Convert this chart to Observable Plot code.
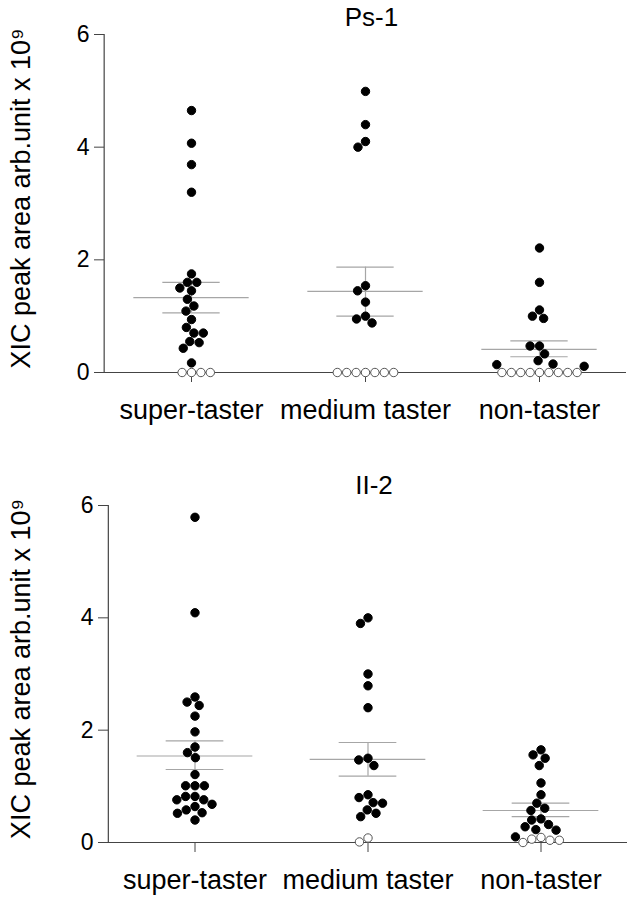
<!DOCTYPE html>
<html>
<head>
<meta charset="utf-8">
<script src="https://cdn.jsdelivr.net/npm/d3@7"></script>
<script src="https://cdn.jsdelivr.net/npm/@observablehq/plot@0.6"></script>
<style>
  html, body { margin: 0; padding: 0; background: #fff; }
  #chart svg { display: block; }
</style>
</head>
<body>
<div id="chart"></div>
<script>
const categories = ["super-taster", "medium taster", "non-taster"];
const yTicks = [0, 2, 4, 6];
const yLabel = "XIC peak area arb.unit x 10⁹";
const titles = ["Ps-1", "II-2"];

// Ps-1 panel: filled = detected, open = below detection
const ps1SuperFilled = [4.65, 4.07, 3.69, 3.20, 1.75, 1.60, 1.60, 1.50, 1.45, 1.30, 1.18, 1.09, 0.94, 0.80, 0.70, 0.70, 0.55, 0.53, 0.43, 0.17];
const ps1SuperOpen = [0, 0, 0, 0];
const ps1MediumFilled = [4.99, 4.40, 4.10, 4.00, 1.54, 1.45, 1.25, 1.00, 0.95, 0.88];
const ps1MediumOpen = [0, 0, 0, 0, 0, 0, 0];
const ps1NonFilled = [2.21, 1.60, 1.11, 1.00, 0.96, 0.47, 0.47, 0.33, 0.21, 0.15, 0.14, 0.11];
const ps1NonOpen = [0, 0, 0, 0, 0, 0, 0, 0, 0];
const ps1Mean = [1.33, 1.44, 0.41];
const ps1Lower = [1.06, 1.00, 0.28];
const ps1Upper = [1.60, 1.87, 0.56];

// II-2 panel
const ii2SuperFilled = [5.79, 4.09, 2.59, 2.50, 2.44, 2.25, 1.97, 1.70, 1.60, 1.51, 1.21, 1.01, 1.01, 1.01, 0.82, 0.82, 0.76, 0.76, 0.68, 0.64, 0.58, 0.53, 0.52, 0.40];
const ii2SuperOpen = [];
const ii2MediumFilled = [4.00, 3.90, 3.00, 2.79, 2.40, 1.50, 1.47, 1.37, 0.85, 0.80, 0.71, 0.70, 0.58, 0.52, 0.46];
const ii2MediumOpen = [0.08, 0.01];
const ii2NonFilled = [1.65, 1.56, 1.50, 1.37, 1.06, 0.85, 0.70, 0.61, 0.57, 0.42, 0.40, 0.32, 0.28, 0.23, 0.22, 0.10];
const ii2NonOpen = [0.09, 0.06, 0.04, 0.04, 0.00];
const ii2Mean = [1.54, 1.48, 0.57];
const ii2Lower = [1.30, 1.18, 0.46];
const ii2Upper = [1.81, 1.78, 0.70];

function buildRows(filledByCat, openByCat) {
  const rows = [];
  categories.forEach((c, i) => {
    openByCat[i].forEach(v => rows.push({cat: c, v, open: true}));
    filledByCat[i].forEach(v => rows.push({cat: c, v, open: false}));
  });
  return rows;
}
function buildStats(mean, lower, upper) {
  return categories.map((c, i) => ({cat: c, mean: mean[i], lo: lower[i], hi: upper[i]}));
}

const FONT = "'Liberation Sans', Arial, Helvetica, sans-serif";
const AXIS = "#444";
const ERR = "#a6a6a6";

function panel({title, rows, stats, height, marginTop, marginBottom, marginLeft, titleDy}) {
  const marginRight = 6;
  const bw = (633 - marginLeft - marginRight) / categories.length;
  return Plot.plot({
    width: 633,
    height,
    marginTop, marginBottom, marginLeft, marginRight,
    style: {fontFamily: FONT, background: "white", color: "black", overflow: "visible"},
    fx: {domain: categories, padding: 0, label: null},
    y: {domain: [0, 6], label: null},
    color: {type: "identity"},
    marks: [
      // error bars (mean ± SEM)
      Plot.ruleX(stats, {x: null, fx: "cat", y1: "lo", y2: "hi", stroke: ERR, strokeWidth: 1.2}),
      Plot.tickY(stats, {fx: "cat", y: "mean", stroke: ERR, strokeWidth: 1.2, insetLeft: bw / 2 - 58, insetRight: bw / 2 - 58}),
      Plot.tickY(stats, {fx: "cat", y: "lo", stroke: ERR, strokeWidth: 1.2, insetLeft: bw / 2 - 29, insetRight: bw / 2 - 29}),
      Plot.tickY(stats, {fx: "cat", y: "hi", stroke: ERR, strokeWidth: 1.2, insetLeft: bw / 2 - 29, insetRight: bw / 2 - 29}),
      // axes
      Plot.ruleY([0], {stroke: AXIS, strokeWidth: 1.2}),
      Plot.ruleX([categories[0]], {x: null, fx: d => d, y1: 0, y2: 6, dx: -bw / 2, stroke: AXIS, strokeWidth: 1.2}),
      Plot.axisY({ticks: yTicks, tickFormat: d => String(d), tickSize: 10, tickPadding: 5, fontSize: 23, stroke: AXIS, fill: "black", label: null}),
      Plot.axisFx({anchor: "bottom", tickSize: 10, tickPadding: 17, fontSize: 27, stroke: AXIS, fill: "black", label: null}),
      // points
      Plot.dot(rows, Plot.dodgeX("middle", {
        fx: "cat", y: "v", r: 4.2, padding: 2.6,
        fill: d => d.open ? "white" : "black",
        stroke: d => d.open ? "#555" : "black",
        strokeWidth: 1
      })),
      // y label
      Plot.text([yLabel], {fx: () => categories[0], frameAnchor: "left", textAnchor: "middle", rotate: -90, lineAnchor: "top", dx: -(marginLeft - 9), dy: -5, fontSize: 27, fill: "black"}),
      // title
      Plot.text([title], {fx: () => categories[1], frameAnchor: "top", textAnchor: "middle", lineAnchor: "top", dy: titleDy, dx: 6, fontSize: 26, fill: "black"})
    ]
  });
}

const chart = document.getElementById("chart");
chart.appendChild(panel({
  title: titles[0],
  rows: buildRows([ps1SuperFilled, ps1MediumFilled, ps1NonFilled], [ps1SuperOpen, ps1MediumOpen, ps1NonOpen]),
  stats: buildStats(ps1Mean, ps1Lower, ps1Upper),
  height: 440, marginTop: 34, marginBottom: 68, marginLeft: 103, titleDy: -27
}));
chart.appendChild(panel({
  title: titles[1],
  rows: buildRows([ii2SuperFilled, ii2MediumFilled, ii2NonFilled], [ii2SuperOpen, ii2MediumOpen, ii2NonOpen]),
  stats: buildStats(ii2Mean, ii2Lower, ii2Upper),
  height: 461, marginTop: 65, marginBottom: 59, marginLeft: 107, titleDy: -30
}));
</script>
</body>
</html>
